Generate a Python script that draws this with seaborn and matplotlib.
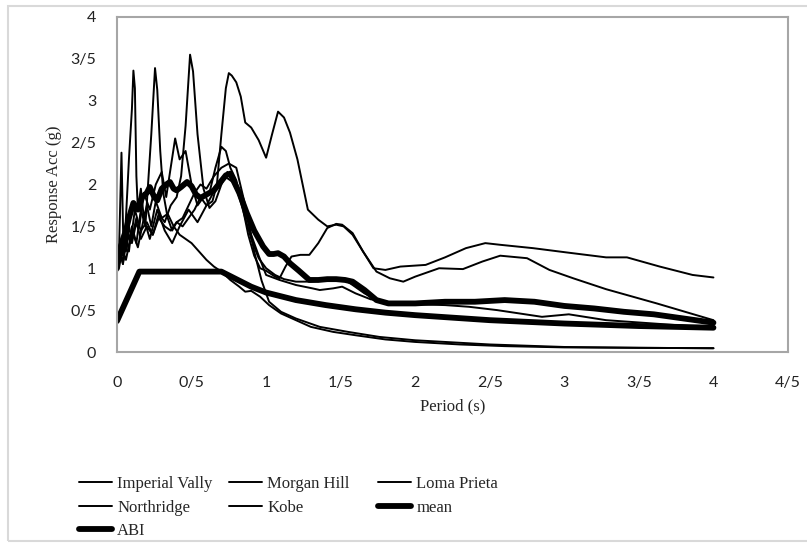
import matplotlib
matplotlib.use("Agg")
import matplotlib.pyplot as plt
import matplotlib.patches as mpatches
import seaborn as sns
import pandas as pd

# ---- spectral data (period in s, response acceleration in g) ----
t_imperial = [0, 0.02, 0.04, 0.06, 0.08, 0.1, 0.11, 0.12, 0.13, 0.14, 0.16, 0.18, 0.2, 0.23,
              0.26, 0.3, 0.34, 0.38, 0.42, 0.46, 0.5, 0.55, 0.6, 0.65, 0.7, 0.76, 0.82, 0.86,
              0.9, 0.96, 1.02, 1.1, 1.2, 1.3, 1.45, 1.6, 1.8, 2.0, 2.3, 2.6, 3.0, 3.5, 4.0]
a_imperial = [1.0, 1.2, 1.05, 1.6, 2.3, 2.9, 3.36, 3.15, 2.1, 1.7, 1.95, 1.6, 1.75, 1.5,
              1.8, 1.6, 1.65, 1.5, 1.4, 1.35, 1.3, 1.2, 1.1, 1.02, 0.96, 0.86, 0.78, 0.72,
              0.73, 0.66, 0.56, 0.46, 0.38, 0.3, 0.24, 0.2, 0.15, 0.12, 0.09, 0.07, 0.055, 0.05, 0.045]

t_morgan = [0, 0.015, 0.03, 0.045, 0.06, 0.08, 0.1, 0.13, 0.16, 0.19, 0.21, 0.23, 0.255, 0.27,
            0.29, 0.31, 0.34, 0.37, 0.4, 0.44, 0.48, 0.52, 0.56, 0.6, 0.65, 0.7, 0.75, 0.8,
            0.86, 0.92, 0.97, 1.02, 1.1, 1.2, 1.36, 1.55, 1.76, 2.0, 2.5, 3.0, 3.5, 4.0]
a_morgan = [1.0, 1.3, 2.38, 1.1, 1.4, 1.2, 1.5, 1.3, 1.7, 1.5, 2.05, 2.6, 3.39, 3.13,
            2.4, 1.9, 1.6, 1.45, 1.55, 1.6, 1.75, 1.9, 2.0, 1.95, 2.1, 2.2, 2.25, 2.2,
            1.75, 1.2, 0.85, 0.6, 0.48, 0.4, 0.3, 0.24, 0.18, 0.14, 0.09, 0.06, 0.05, 0.045]

t_loma = [0, 0.02, 0.04, 0.07, 0.1, 0.13, 0.16, 0.2, 0.24, 0.28, 0.32, 0.36, 0.4, 0.43, 0.46,
          0.49, 0.51, 0.54, 0.58, 0.62, 0.66, 0.7, 0.74, 0.78, 0.82, 0.86, 0.9, 0.95, 1.0, 1.06,
          1.12, 1.2, 1.3, 1.4, 1.47, 1.52, 1.58, 1.66, 1.75, 1.85, 2.0, 2.2, 2.36, 2.55, 2.7,
          2.85, 3.03, 3.28, 3.6, 4.0]
a_loma = [0.95, 1.2, 1.05, 1.45, 1.3, 1.55, 1.35, 1.5, 1.4, 1.65, 1.55, 1.75, 1.85, 2.1, 2.7,
          3.55, 3.35, 2.6, 1.95, 1.72, 1.8, 2.0, 2.15, 2.05, 1.85, 1.6, 1.35, 1.12, 1.0, 0.92,
          0.87, 0.84, 0.84, 0.86, 0.88, 0.87, 0.8, 0.7, 0.62, 0.58, 0.57, 0.56, 0.54, 0.5, 0.46,
          0.42, 0.45, 0.38, 0.34, 0.29]

t_northridge = [0, 0.02, 0.04, 0.06, 0.09, 0.12, 0.15, 0.18, 0.22, 0.26, 0.3, 0.33, 0.36, 0.39,
                0.42, 0.46, 0.5, 0.54, 0.58, 0.62, 0.66, 0.7, 0.73, 0.76, 0.8, 0.84, 0.88, 0.92,
                0.96, 1.0, 1.06, 1.09, 1.13, 1.17, 1.23, 1.29, 1.35, 1.41, 1.47, 1.51, 1.58, 1.65,
                1.74, 1.83, 1.92, 2.0, 2.16, 2.32, 2.45, 2.57, 2.75, 2.9, 3.06, 3.28, 3.62, 4.0]
a_northridge = [1.05, 1.3, 1.15, 1.45, 1.3, 1.7, 1.5, 1.9, 1.7, 2.0, 2.15, 1.85, 2.2, 2.55,
                2.3, 2.4, 2.0, 1.75, 1.85, 1.9, 2.2, 2.45, 2.4, 2.2, 2.05, 1.75, 1.4, 1.15,
                1.0, 0.97, 0.9, 0.88, 1.02, 1.14, 1.16, 1.16, 1.3, 1.48, 1.53, 1.52, 1.42, 1.2,
                0.96, 0.88, 0.84, 0.9, 1.0, 0.99, 1.08, 1.15, 1.12, 0.98, 0.88, 0.75, 0.58, 0.38]

t_kobe = [0, 0.02, 0.04, 0.06, 0.08, 0.1, 0.13, 0.16, 0.2, 0.24, 0.28, 0.32, 0.36, 0.4, 0.44,
          0.48, 0.52, 0.56, 0.6, 0.64, 0.67, 0.7, 0.73, 0.75, 0.77, 0.8, 0.83, 0.86, 0.9, 0.95,
          1.0, 1.04, 1.08, 1.12, 1.16, 1.21, 1.28, 1.35, 1.41, 1.47, 1.52, 1.58, 1.65, 1.72,
          1.8, 1.9, 2.07, 2.2, 2.34, 2.47, 2.57, 2.79, 3.01, 3.28, 3.42, 3.64, 3.86, 4.0]
a_kobe = [1.0, 1.15, 1.35, 1.2, 1.5, 1.35, 1.6, 1.45, 1.55, 1.4, 1.6, 1.5, 1.45, 1.55, 1.5,
          1.6, 1.7, 1.85, 1.75, 1.8, 2.0, 2.6, 3.15, 3.33, 3.3, 3.22, 3.05, 2.74, 2.68, 2.53,
          2.32, 2.6, 2.87, 2.8, 2.62, 2.3, 1.7, 1.58, 1.5, 1.52, 1.5, 1.4, 1.2, 1.0,
          0.98, 1.02, 1.04, 1.13, 1.24, 1.3, 1.28, 1.24, 1.19, 1.13, 1.13, 1.02, 0.92, 0.89]

# additional record plotted without a legend entry
t_extra = [0, 0.03, 0.06, 0.1, 0.14, 0.18, 0.22, 0.27, 0.32, 0.37, 0.42, 0.48, 0.54, 0.6, 0.66,
           0.72, 0.8, 0.86, 0.9, 0.95, 1.0, 1.09, 1.2, 1.31, 1.36, 1.45, 1.51, 1.6, 1.7, 1.8,
           2.0, 2.3, 2.6, 3.0, 3.5, 4.0]
a_extra = [1.0, 1.25, 1.1, 1.45, 1.25, 1.6, 1.35, 1.7, 1.45, 1.3, 1.5, 1.7, 1.55, 1.75, 1.95,
           2.1, 2.0, 1.7, 1.4, 1.15, 0.92, 0.86, 0.8, 0.76, 0.74, 0.76, 0.78, 0.7, 0.63, 0.6,
           0.58, 0.6, 0.62, 0.55, 0.46, 0.35]

t_mean = [0, 0.02, 0.04, 0.06, 0.08, 0.11, 0.14, 0.17, 0.2, 0.22, 0.25, 0.27, 0.3, 0.33, 0.355,
          0.38, 0.4, 0.43, 0.47, 0.5, 0.53, 0.56, 0.6, 0.65, 0.69, 0.73, 0.76, 0.78, 0.82, 0.87,
          0.92, 0.98, 1.02, 1.05, 1.08, 1.12, 1.16, 1.22, 1.29, 1.35, 1.41, 1.47, 1.53, 1.58,
          1.66, 1.74, 1.82, 1.9, 2.0, 2.2, 2.4, 2.6, 2.8, 3.0, 3.2, 3.4, 3.6, 3.8, 4.0]
a_mean = [1.0, 1.2, 1.35, 1.45, 1.6, 1.78, 1.7, 1.85, 1.9, 1.97, 1.85, 1.81, 1.95, 2.0, 2.03,
          1.95, 1.93, 1.97, 2.03, 1.98, 1.88, 1.84, 1.88, 1.93, 2.02, 2.11, 2.13, 2.05, 1.9, 1.66,
          1.45, 1.26, 1.17, 1.17, 1.18, 1.14, 1.06, 0.97, 0.86, 0.86, 0.87, 0.87, 0.86, 0.84,
          0.74, 0.62, 0.58, 0.58, 0.58, 0.6, 0.6, 0.62, 0.6, 0.55, 0.52, 0.48, 0.45, 0.4, 0.35]

t_abi = [0, 0.15, 0.7, 0.8, 0.9, 1.0, 1.2, 1.4, 1.6, 1.8, 2.0, 2.5, 3.0, 3.5, 4.0]
a_abi = [0.37, 0.96, 0.96, 0.87, 0.78, 0.71, 0.62, 0.56, 0.51, 0.47, 0.44, 0.38, 0.34, 0.31, 0.29]

x_ticks = [0, 0.5, 1, 1.5, 2, 2.5, 3, 3.5, 4, 4.5]
x_tick_labels = ["0", "0/5", "1", "1/5", "2", "2/5", "3", "3/5", "4", "4/5"]
y_ticks = [0, 0.5, 1, 1.5, 2, 2.5, 3, 3.5, 4]
y_tick_labels = ["0", "0/5", "1", "1/5", "2", "2/5", "3", "3/5", "4"]

records = [
    ("Imperial Vally", t_imperial, a_imperial),
    ("Morgan Hill", t_morgan, a_morgan),
    ("Loma Prieta", t_loma, a_loma),
    ("Northridge", t_northridge, a_northridge),
    ("Kobe", t_kobe, a_kobe),
]

sns.set_theme(style="white")
plt.rcParams["font.family"] = ["Liberation Serif", "DejaVu Serif"]

W, H = 807, 543
fig = plt.figure(figsize=(W / 100, H / 100), dpi=100)
ax = fig.add_axes([117 / W, 1 - 352 / H, (788 - 117) / W, (352 - 17) / H])

thin = 1.4
thick = 4.2
line_kw = dict(color="black", solid_joinstyle="round", solid_capstyle="round")

handles = {}
for name, t, a in records:
    df = pd.DataFrame({"T": t, "A": a})
    sns.lineplot(data=df, x="T", y="A", ax=ax, estimator=None, lw=thin, **line_kw)
    handles[name] = ax.lines[-1]

df = pd.DataFrame({"T": t_extra, "A": a_extra})
sns.lineplot(data=df, x="T", y="A", ax=ax, estimator=None, lw=thin, **line_kw)

df = pd.DataFrame({"T": t_mean, "A": a_mean})
sns.lineplot(data=df, x="T", y="A", ax=ax, estimator=None, lw=thick, **line_kw)
handles["mean"] = ax.lines[-1]

df = pd.DataFrame({"T": t_abi, "A": a_abi})
sns.lineplot(data=df, x="T", y="A", ax=ax, estimator=None, lw=thick, **line_kw)
handles["ABI"] = ax.lines[-1]

ax.set_xlim(0, 4.5)
ax.set_ylim(0, 4)
ax.set_xticks(x_ticks)
ax.set_xticklabels(x_tick_labels)
ax.set_yticks(y_ticks)
ax.set_yticklabels(y_tick_labels)
ax.tick_params(axis="both", length=0, labelsize=11.5, colors="#222222")
ax.tick_params(axis="x", pad=17)
ax.tick_params(axis="y", pad=15)
for lab in ax.get_xticklabels() + ax.get_yticklabels():
    lab.set_family(["Lato", "DejaVu Sans"])

ax.set_xlabel("Period (s)", fontsize=12, labelpad=6)
ax.set_ylabel("Response Acc (g)", fontsize=12, labelpad=6)
ax.grid(False)
for sp in ax.spines.values():
    sp.set_color("#a6a6a6")
    sp.set_linewidth(1.5)

# legend in three columns below the plot
columns = [
    (["Imperial Vally", "Northridge", "ABI"], 79),
    (["Morgan Hill", "Kobe"], 229),
    (["Loma Prieta", "mean"], 378),
]
for names, xpx in columns:
    fig.legend([handles[n] for n in names], names, loc="upper left",
               bbox_to_anchor=(xpx / W, 1 - 476 / H), frameon=False,
               fontsize=12, handlelength=2.0, handletextpad=0.3,
               labelspacing=0.45, borderpad=0, borderaxespad=0)

# light frame around the whole chart
fig.patches.append(mpatches.Rectangle((8 / W, 1 - 541 / H), (W + 10) / W, (541 - 6) / H,
                                      transform=fig.transFigure, fill=False,
                                      edgecolor="#d9d9d9", lw=1.5))

fig.savefig("out.png", dpi=100)
